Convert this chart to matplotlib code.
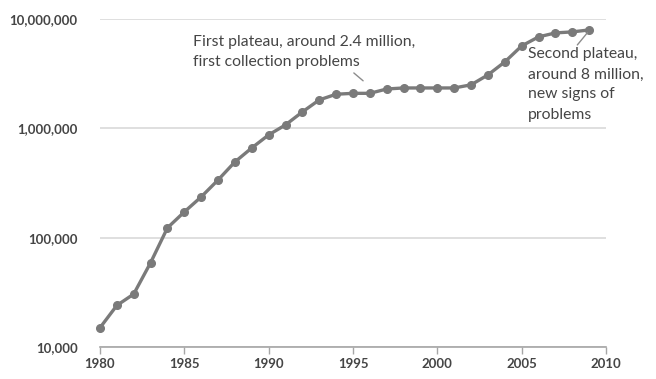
import matplotlib
matplotlib.use("Agg")
import matplotlib.pyplot as plt
from matplotlib.ticker import FuncFormatter, NullLocator

years = list(range(1980, 2010))
counts = [
    15_000, 24_000, 30_500, 59_000, 123_000, 172_000, 236_000, 337_000,
    493_000, 662_000, 871_000, 1_075_000, 1_413_000, 1_820_000, 2_050_000,
    2_090_000, 2_090_000, 2_290_000, 2_340_000, 2_340_000, 2_340_000,
    2_340_000, 2_500_000, 3_080_000, 4_050_000, 5_670_000, 6_860_000,
    7_460_000, 7_620_000, 7_940_000,
]
y_ticks = [10_000, 100_000, 1_000_000, 10_000_000]
x_ticks = [1980, 1985, 1990, 1995, 2000, 2005, 2010]

note_first = "First plateau, around 2.4 million,\nfirst collection problems"
note_second = "Second plateau,\naround 8 million,\nnew signs of\nproblems"

text_color = "#454545"
line_color = "#7a7a7a"

plt.rcParams["font.family"] = ["Lato", "DejaVu Sans"]

fig = plt.figure(figsize=(6.56, 3.79), dpi=100)
ax = fig.add_axes([0.1524, 0.0844, 0.7714, 0.8655])

ax.plot(years, counts, color=line_color, linewidth=2.4, marker="o",
        markersize=5.5, markerfacecolor=line_color,
        markeredgecolor=line_color, zorder=3, clip_on=False)

ax.set_yscale("log")
ax.set_ylim(10_000, 10_000_000)
ax.set_xlim(1980, 2010)
ax.set_yticks(y_ticks)
ax.yaxis.set_minor_locator(NullLocator())
ax.yaxis.set_major_formatter(FuncFormatter(lambda v, p: f"{int(v):,}"))
ax.set_xticks(x_ticks)

ax.grid(axis="y", color="#d9d9d9", linewidth=1.2)
ax.set_axisbelow(True)
for side in ["left", "right", "top"]:
    ax.spines[side].set_visible(False)
ax.spines["bottom"].set_color("#a6a6a6")
ax.spines["bottom"].set_linewidth(1.2)

ax.tick_params(axis="y", length=0, pad=16, labelsize=9.5,
               labelcolor=text_color)
ax.tick_params(axis="x", length=5, width=1, color="#a6a6a6", pad=3,
               labelsize=9.5, labelcolor=text_color)
for lab in ax.get_yticklabels() + ax.get_xticklabels():
    lab.set_fontweight("bold")

# callout texts
ax.text(1985.5, 7_100_000, note_first, fontsize=11.3, color=text_color,
        va="top", ha="left", linespacing=1.55)
ax.text(2005.35, 5_500_000, note_second, fontsize=11.3, color=text_color,
        va="top", ha="left", linespacing=1.55)

# short leader lines from the callouts towards the curve
leader = dict(arrowstyle="-", color="#8c8c8c", lw=1, shrinkA=0, shrinkB=0)
ax.annotate("", xy=(1995.6, 2_720_000), xytext=(1995.05, 3_210_000),
            arrowprops=leader)
ax.annotate("", xy=(2008.9, 7_500_000), xytext=(2008.3, 5_790_000),
            arrowprops=leader)

fig.savefig("out.png", dpi=100)
